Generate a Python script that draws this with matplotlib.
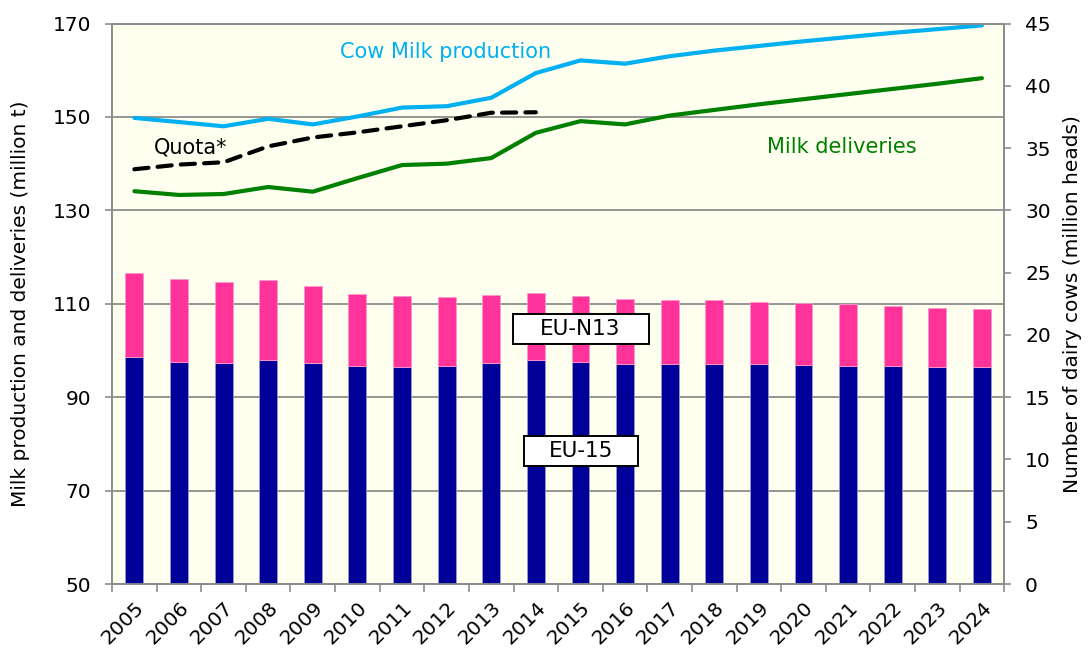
import matplotlib
matplotlib.use("Agg")
import matplotlib.pyplot as plt
from matplotlib.patches import Rectangle
from matplotlib.transforms import ScaledTranslation
import numpy as np

years = [str(y) for y in range(2005, 2025)]
cow_milk = [149.8, 148.9, 148.0, 149.6, 148.4, 150.1, 152.0, 152.3, 154.1, 159.4,
            162.1, 161.4, 163.0, 164.2, 165.2, 166.2, 167.1, 168.0, 168.8, 169.6]
deliveries = [134.1, 133.3, 133.5, 135.0, 134.0, 136.9, 139.7, 140.0, 141.2, 146.6,
              149.1, 148.4, 150.3, 151.5, 152.7, 153.8, 154.9, 156.0, 157.1, 158.3]
quota = [138.8, 139.8, 140.3, 143.7, 145.6, 146.7, 148.0, 149.3, 150.9, 151.0]
eu15 = [18.19, 17.84, 17.73, 18.00, 17.76, 17.52, 17.41, 17.52, 17.76, 18.00,
        17.84, 17.68, 17.70, 17.68, 17.68, 17.60, 17.54, 17.52, 17.46, 17.41]
total_cows = [24.97, 24.45, 24.27, 24.38, 23.89, 23.30, 23.09, 23.04, 23.22, 23.36,
              23.14, 22.88, 22.82, 22.77, 22.66, 22.55, 22.47, 22.34, 22.20, 22.10]
eun13 = [t - e for t, e in zip(total_cows, eu15)]

plt.rcParams['font.family'] = ['DejaVu Sans']
fig = plt.figure(figsize=(10.88, 6.5), dpi=100)
ax = fig.add_axes([0.103, 0.1015, 0.820, 0.8623])
ax.set_facecolor('#FFFFF0')
ax2 = ax.twinx()

x = np.arange(len(years))
ax2.bar(x, eu15, width=0.4, color='#000099', edgecolor='#9999CC', linewidth=0.6, zorder=2)
ax2.bar(x, eun13, width=0.4, bottom=eu15, color='#FF3399', edgecolor='#FF99CC', linewidth=0.6, zorder=2)

ax.plot(x, cow_milk, color='#00B0F0', lw=3.0, solid_capstyle='round', zorder=3)
ax.plot(x, deliveries, color='#008000', lw=3.0, solid_capstyle='round', zorder=3)
ax.plot(x[:len(quota)], quota, color='black', lw=3.0, ls=(0, (3.4, 2.2)),
        dash_capstyle='round', zorder=3)

ax.set_xlim(-0.5, len(years) - 0.5)
ax.set_ylim(50, 170)
ax.set_yticks(range(50, 171, 20))
ax2.set_ylim(0, 45)
ax2.set_yticks(range(0, 46, 5))

ax.grid(axis='y', color='#8C8C8C', lw=1.3)
ax.set_axisbelow(True)

ax.set_xticks(x)
ax.set_xticklabels(years, rotation=45, ha='right', rotation_mode='anchor', fontsize=14.5)
offset = ScaledTranslation(5 / 100, 0, fig.dpi_scale_trans)
for lbl in ax.get_xticklabels():
    lbl.set_transform(lbl.get_transform() + offset)
ax.set_xticks(np.arange(-0.5, len(years), 1), minor=True)
ax.tick_params(axis='x', which='major', length=0, pad=10)
ax.tick_params(axis='x', which='minor', length=6, color='#8C8C8C', width=1.2)
ax.tick_params(axis='y', length=5, color='#8C8C8C', width=1.2, labelsize=14.5, pad=10)
ax2.tick_params(axis='y', length=5, color='#8C8C8C', width=1.2, labelsize=14.5, pad=10)

for a in (ax, ax2):
    for s in a.spines.values():
        s.set_color('#8C8C8C')
        s.set_linewidth(1.3)

ax.set_ylabel('Milk production and deliveries (million t)', fontsize=14.5, labelpad=16)
ax2.set_ylabel('Number of dairy cows (million heads)', fontsize=14.5, labelpad=9)

ax.text(6.97, 163.9, 'Cow Milk production', color='#00B0F0', fontsize=15, ha='center', va='center')
ax.text(1.25, 143.4, 'Quota*', color='black', fontsize=15, ha='center', va='center')
ax.text(15.85, 143.6, 'Milk deliveries', color='#008000', fontsize=15, ha='center', va='center')

ax2.add_patch(Rectangle((8.485, 19.26), 3.06, 2.41, facecolor='white', edgecolor='black',
                        lw=1.4, zorder=5))
ax2.text(10.0, 20.47, 'EU-N13', fontsize=15.5, ha='center', va='center', zorder=6)
ax2.add_patch(Rectangle((8.744, 9.48), 2.556, 2.41, facecolor='white', edgecolor='black',
                        lw=1.4, zorder=5))
ax2.text(10.02, 10.69, 'EU-15', fontsize=15.5, ha='center', va='center', zorder=6)

fig.savefig('out.png', dpi=100)
